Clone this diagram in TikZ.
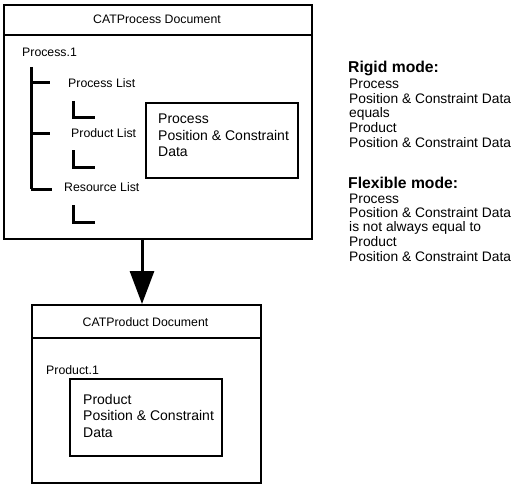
\documentclass[tikz,border=0pt]{standalone}
\usepackage{fontspec}
\setmainfont{Liberation Sans}
\usetikzlibrary{arrows.meta}
\begin{document}
\begin{tikzpicture}[x=1pt,y=-1pt,
  outer/.style={draw,line width=2pt,inner sep=0pt},
  inner/.style={draw,line width=2pt,inner sep=0pt},
  sep/.style={line width=1.5pt},
  tree/.style={line width=3pt},
  lbl/.style={inner sep=0pt,anchor=west,font=\fontsize{12.3}{12}\selectfont},
  boxtxt/.style={inner sep=0pt,anchor=north west,align=left,font=\fontsize{14}{16.5}\selectfont},
  side/.style={inner sep=0pt,anchor=west,font=\fontsize{13.8}{14}\selectfont},
  head/.style={inner sep=0pt,anchor=west,font=\fontsize{15.7}{15}\bfseries\selectfont},
  arr/.style={line width=3pt,-{Triangle[width=24pt,length=33pt]}}]
\useasboundingbox (0,0) rectangle (532,484);
% top document box
\node[outer,minimum width=308pt,minimum height=234pt,anchor=north west] (pbox) at (3,4) {};
\coordinate (ph) at (3,35);
\draw[sep] (ph) -- (ph -| pbox.east);
\node[inner sep=0pt,font=\fontsize{12.3}{12}\selectfont] (ptitle) at (157,19) {CATProcess Document};
\node[lbl] (p1) at (22,52) {Process.1};
% tree
\coordinate (t0) at (31,67);
\coordinate (t1) at (31,83);
\coordinate (t2) at (31,133);
\coordinate (t3) at (31,189);
\draw[tree] (t0) -- (t3);
\node[lbl] (pl) at (68,83) {Process List};
\node[lbl] (prl) at (71,133) {Product List};
\node[lbl] (rl) at (64,187) {Resource List};
\draw[tree] (t1) -- (t1 -| 50,0);
\draw[tree] (t2) -- (t2 -| 50,0);
\draw[tree] (t3) -| (50,188);
\coordinate (l1a) at (73,101); \coordinate (l1b) at (95,117);
\coordinate (l2a) at (73,150); \coordinate (l2b) at (95,167);
\coordinate (l3a) at (73,205); \coordinate (l3b) at (95,222);
\draw[tree] (l1a) |- (l1b);
\draw[tree] (l2a) |- (l2b);
\draw[tree] (l3a) |- (l3b);
% process data box
\node[inner,minimum width=152pt,minimum height=75pt,anchor=north west] (pdata) at (145,102) {};
\node[boxtxt] (pdtxt) at (158,114) {Process\\Position \& Constraint\\Data};
% arrow
\coordinate (ax) at (142,0);
% bottom document box
\node[outer,minimum width=229pt,minimum height=178pt,anchor=north west] (cbox) at (31,304) {};
\coordinate (ch) at (31,338);
\draw[sep] (ch) -- (ch -| cbox.east);
\node[inner sep=0pt,font=\fontsize{12.3}{12}\selectfont] (ctitle) at (145.5,322) {CATProduct Document};
\node[lbl] (c1) at (46,370) {Product.1};
\node[inner,minimum width=152pt,minimum height=77pt,anchor=north west] (cdata) at (69,378) {};
\node[boxtxt] (cdtxt) at (83,394) {Product\\Position \& Constraint\\Data};
\draw[arr] (pbox.south -| ax) -- (cbox.north -| ax);
% side text
\node[head] (rigid) at (348,68) {Rigid mode:};
\node[side] (r1) at (349,84) {Process};
\node[side] (r2) at (349,99) {Position \& Constraint Data};
\node[side] (r3) at (349,114) {equals};
\node[side] (r4) at (349,128) {Product};
\node[side] (r5) at (349,143) {Position \& Constraint Data};
\node[head] (flex) at (348,183) {Flexible mode:};
\node[side] (f1) at (349,199) {Process};
\node[side] (f2) at (349,213) {Position \& Constraint Data};
\node[side] (f3) at (349,228) {is not always equal to};
\node[side] (f4) at (349,242) {Product};
\node[side] (f5) at (349,257) {Position \& Constraint Data};
\end{tikzpicture}
\end{document}
